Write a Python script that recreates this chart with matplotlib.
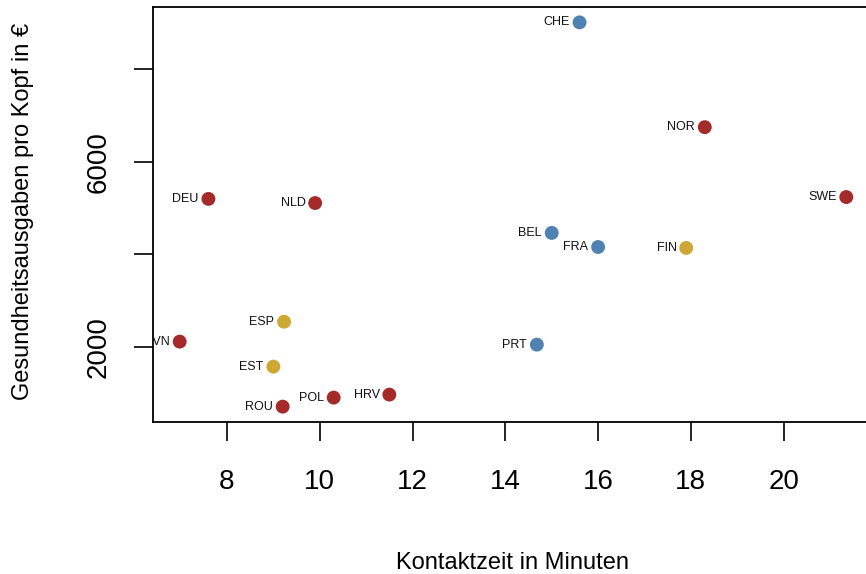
import matplotlib
matplotlib.use("Agg")
import matplotlib.pyplot as plt

plt.rcParams['font.family'] = ['Liberation Sans', 'DejaVu Sans']

# countries, contact time (minutes), health spending per capita (EUR), group colour
countries = ["CHE", "NOR", "SWE", "DEU", "NLD", "BEL", "FRA", "FIN",
             "ESP", "SVN", "PRT", "EST", "HRV", "POL", "ROU"]
kontaktzeit = [15.6, 18.3, 21.35, 7.6, 9.9, 15.0, 16.0, 17.9,
               9.23, 6.98, 14.68, 9.0, 11.5, 10.3, 9.2]
ausgaben = [9010, 6745, 5235, 5195, 5105, 4460, 4155, 4135,
            2540, 2110, 2045, 1570, 965, 900, 705]
gruppe = ["blue", "red", "red", "red", "red", "blue", "blue", "gold",
          "gold", "red", "blue", "gold", "red", "red", "red"]

farben = {"red": "#A52A2A", "blue": "#4F82B0", "gold": "#CDA834"}

xticks = [8, 10, 12, 14, 16, 18, 20]
yticks = [2000, 4000, 6000, 8000]
ytick_labels = ["2000", "", "6000", ""]

fig = plt.figure(figsize=(8.66, 5.74), dpi=100)
ax = fig.add_axes([0.1767, 0.2648, 0.8313, 0.723])

ax.scatter(kontaktzeit, ausgaben, s=100, c=[farben[g] for g in gruppe],
           edgecolors="none", zorder=3, clip_on=False)

for name, x, y in zip(countries, kontaktzeit, ausgaben):
    ax.annotate(name, (x, y), xytext=(-7, 0), textcoords="offset points",
                ha="right", va="center", fontsize=9, color="#111111",
                clip_on=True)

# R-style 4% padding on both axes
xr = max(kontaktzeit) - min(kontaktzeit)
yr = max(ausgaben) - min(ausgaben)
ax.set_xlim(min(kontaktzeit) - 0.04 * xr, max(kontaktzeit) + 0.04 * xr)
ax.set_ylim(min(ausgaben) - 0.04 * yr, max(ausgaben) + 0.04 * yr)

ax.set_xticks(xticks)
ax.set_xticklabels([str(t) for t in xticks])
ax.set_yticks(yticks)
ax.set_yticklabels(ytick_labels, rotation=90, va="center")

ax.tick_params(axis="both", direction="out", length=14, width=1.2,
               labelsize=20, color="black")
ax.tick_params(axis="x", pad=20)
ax.tick_params(axis="y", pad=16)

for sp in ax.spines.values():
    sp.set_linewidth(1.3)

fig.text(0.592, 0.024, "Kontaktzeit in Minuten", ha="center", va="center_baseline",
         fontsize=17)
fig.text(0.026, 0.632, "Gesundheitsausgaben pro Kopf in €", ha="center", va="center",
         rotation=90, fontsize=17)

fig.savefig("out.png", dpi=100)
